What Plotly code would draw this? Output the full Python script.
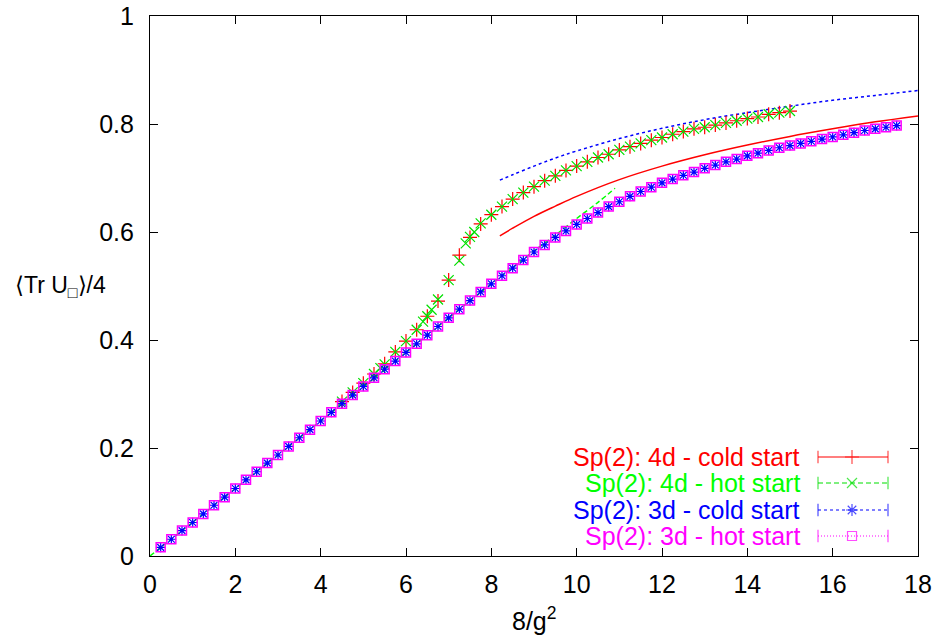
import plotly.graph_objects as go

# ---------------- data ----------------
X3 = [0.25, 0.5, 0.75, 1.0, 1.25, 1.5, 1.75, 2.0, 2.25, 2.5, 2.75, 3.0, 3.25, 3.5,
      3.75, 4.0, 4.25, 4.5, 4.75, 5.0, 5.25, 5.5, 5.75, 6.0, 6.25, 6.5, 6.75, 7.0,
      7.25, 7.5, 7.75, 8.0, 8.25, 8.5, 8.75, 9.0, 9.25, 9.5, 9.75, 10.0, 10.25, 10.5,
      10.75, 11.0, 11.25, 11.5, 11.75, 12.0, 12.25, 12.5, 12.75, 13.0, 13.25, 13.5,
      13.75, 14.0, 14.25, 14.5, 14.75, 15.0, 15.25, 15.5, 15.75, 16.0, 16.25, 16.5,
      16.75, 17.0, 17.25, 17.5]
Y3_COLD = [0.016, 0.031, 0.047, 0.062, 0.078, 0.094, 0.109, 0.125, 0.141, 0.156, 0.172,
           0.187, 0.203, 0.219, 0.234, 0.250, 0.266, 0.282, 0.298, 0.314, 0.330, 0.346,
           0.361, 0.377, 0.393, 0.409, 0.425, 0.441, 0.457, 0.473, 0.489, 0.504, 0.519,
           0.533, 0.548, 0.563, 0.576, 0.590, 0.602, 0.614, 0.625, 0.636, 0.647, 0.656,
           0.666, 0.675, 0.683, 0.691, 0.698, 0.705, 0.711, 0.718, 0.724, 0.730, 0.735,
           0.741, 0.746, 0.751, 0.756, 0.760, 0.764, 0.768, 0.772, 0.776, 0.780, 0.784,
           0.788, 0.791, 0.794, 0.797]
Y3_HOT = list(Y3_COLD)

X4_COLD = [4.5, 4.75, 5.0, 5.25, 5.5, 5.75, 6.0, 6.25, 6.5, 6.75, 7.0, 7.25, 7.5, 7.75,
           8.0, 8.25, 8.5, 8.75, 9.0, 9.25, 9.5, 9.75, 10.0, 10.25, 10.5, 10.75, 11.0,
           11.25, 11.5, 11.75, 12.0, 12.25, 12.5, 12.75, 13.0, 13.25, 13.5, 13.75, 14.0,
           14.25, 14.5, 14.75, 15.0]
Y4_COLD = [0.286, 0.303, 0.320, 0.337, 0.356, 0.378, 0.398, 0.419, 0.444, 0.472, 0.511,
           0.557, 0.590, 0.615, 0.632, 0.647, 0.661, 0.673, 0.684, 0.695, 0.704, 0.714,
           0.722, 0.730, 0.738, 0.744, 0.752, 0.758, 0.764, 0.770, 0.775, 0.781, 0.786,
           0.791, 0.794, 0.798, 0.802, 0.806, 0.810, 0.813, 0.818, 0.821, 0.824]
X4_HOT = [4.5, 4.75, 5.0, 5.25, 5.4, 5.5, 5.75, 6.0, 6.25, 6.4, 6.5, 6.6, 6.75, 7.0,
          7.25, 7.4, 7.5, 7.6, 7.75, 8.0, 8.25, 8.5, 8.75, 9.0, 9.25, 9.5, 9.75, 10.0,
          10.25, 10.5, 10.75, 11.0, 11.25, 11.5, 11.75, 12.0, 12.25, 12.5, 12.75, 13.0,
          13.25, 13.5, 13.75, 14.0, 14.25, 14.5, 14.75, 15.0]
Y4_HOT = [0.286, 0.303, 0.320, 0.337, 0.348, 0.355, 0.378, 0.398, 0.419, 0.434, 0.444,
          0.456, 0.475, 0.511, 0.547, 0.579, 0.591, 0.600, 0.616, 0.632, 0.647, 0.661,
          0.673, 0.684, 0.695, 0.704, 0.714, 0.722, 0.730, 0.738, 0.744, 0.752, 0.758,
          0.764, 0.770, 0.775, 0.781, 0.786, 0.791, 0.794, 0.798, 0.802, 0.806, 0.810,
          0.813, 0.818, 0.821, 0.824]

# expansion curves (no legend entry)
X_RED = [8.2, 8.5, 9.0, 9.5, 10.0, 11.0, 12.0, 13.0, 14.0, 15.0, 16.0, 17.0, 18.0]
Y_RED = [0.593, 0.607, 0.629, 0.648, 0.666, 0.697, 0.722, 0.743, 0.761, 0.777, 0.791,
         0.804, 0.815]
X_BLUE = [8.2, 8.5, 9.0, 9.5, 10.0, 11.0, 12.0, 13.0, 14.0, 15.0, 16.0, 17.0, 18.0]
Y_BLUE = [0.696, 0.706, 0.722, 0.737, 0.750, 0.773, 0.792, 0.808, 0.821, 0.833, 0.844,
          0.853, 0.862]
X_GREEN = [0.0, 1.0, 2.0, 3.0, 4.0, 5.0, 6.0, 7.0, 8.0, 8.5, 9.0, 9.5, 10.0, 10.5, 10.9]
Y_GREEN = [0.0, 0.0625, 0.125, 0.1875, 0.25, 0.313, 0.377, 0.441, 0.504, 0.534, 0.565,
           0.594, 0.625, 0.655, 0.681]

X_TICKS = [0, 2, 4, 6, 8, 10, 12, 14, 16, 18]
Y_TICKS = [0, 0.2, 0.4, 0.6, 0.8, 1]
Y_TICKTEXT = ["0", "0.2", "0.4", "0.6", "0.8", "1"]

SERIES_NAMES = ["Sp(2): 4d - cold start", "Sp(2): 4d - hot start",
                "Sp(2): 3d - cold start", "Sp(2): 3d - hot start"]
COLORS = ["#ff0000", "#00e000", "#0000ff", "#ff00ff"]
TEXT_COLORS = ["#ff0000", "#00ff00", "#0000ff", "#ff00ff"]
SYMBOLS = ["cross-thin", "x-thin", "asterisk-open", "square-open"]
DASHES = ["solid", "5px,3px", "3px,3px", "1px,2px"]

FONT = "Liberation Sans, Arial, Helvetica, sans-serif"
FS = 25

fig = go.Figure()

# expansion curves
fig.add_trace(go.Scatter(x=X_RED, y=Y_RED, mode="lines", line_shape="spline",
                         line=dict(color=COLORS[0], width=1.5, dash=DASHES[0]),
                         hoverinfo="skip"))
fig.add_trace(go.Scatter(x=X_GREEN, y=Y_GREEN, mode="lines", line_shape="spline",
                         line=dict(color=TEXT_COLORS[1], width=1.5, dash=DASHES[1]),
                         hoverinfo="skip"))
fig.add_trace(go.Scatter(x=X_BLUE, y=Y_BLUE, mode="lines", line_shape="spline",
                         line=dict(color=COLORS[2], width=1.5, dash=DASHES[2]),
                         hoverinfo="skip"))

# data points
data = [(X4_COLD, Y4_COLD, 10), (X4_HOT, Y4_HOT, 10), (X3, Y3_COLD, 8), (X3, Y3_HOT, 9)]
for i, (xs, ys, sz) in enumerate(data):
    fig.add_trace(go.Scatter(
        x=xs, y=ys, mode="markers", name=SERIES_NAMES[i],
        marker=dict(symbol=SYMBOLS[i], size=sz, color=COLORS[i],
                    line=dict(color=COLORS[i], width=1.5 if i == 3 else 1.2)),
    ))

# legend (gnuplot style: right-aligned coloured text, sample on the right)
L = 150
T = 16
PW = 768
PH = 540
row_px = [457, 483, 510, 536]
text_right_px = 802
samp_x_px = [818, 852, 888]
samp_x = [(p - L) / PW for p in samp_x_px]
for i, ry in enumerate(row_px):
    yv = (T + PH - ry) / PH
    fig.add_annotation(x=(text_right_px - L) / PW, y=yv, xref="paper", yref="paper",
                       text=SERIES_NAMES[i], showarrow=False, xanchor="right",
                       yanchor="middle",
                       font=dict(family=FONT, size=FS, color=TEXT_COLORS[i]))
    fig.add_trace(go.Scatter(
        x=samp_x, y=[yv, yv, yv], xaxis="x2", yaxis="y2", mode="lines+markers",
        line=dict(color=COLORS[i], width=1.2, dash=DASHES[i]),
        marker=dict(symbol=["line-ns", SYMBOLS[i], "line-ns"],
                    size=[9, 10 if i < 3 else 9, 9], color=COLORS[i],
                    line=dict(color=COLORS[i], width=1.2)),
        hoverinfo="skip"))

# axis titles
fig.add_annotation(x=0, y=0.5, xref="paper", yref="paper", xshift=-90,
                   text="⟨Tr U<sub>□</sub>⟩/4", showarrow=False,
                   xanchor="center", yanchor="middle",
                   font=dict(family=FONT, size=23, color="black"))
fig.add_annotation(x=0.5, y=0, xref="paper", yref="paper", yshift=-63,
                   text="8/g<sup>2</sup>", showarrow=False,
                   xanchor="center", yanchor="middle",
                   font=dict(family=FONT, size=FS, color="black"))

axis_common = dict(ticks="inside", ticklen=8, tickwidth=1, tickcolor="black",
                   showline=True, linecolor="black", linewidth=1.2, mirror="ticks",
                   showgrid=False, zeroline=False, automargin=False,
                   tickfont=dict(family=FONT, size=FS, color="black"))

fig.update_layout(
    width=936, height=637,
    margin=dict(l=L, r=18, t=T, b=637 - T - PH, pad=0, autoexpand=False),
    paper_bgcolor="white", plot_bgcolor="white",
    showlegend=False,
    font=dict(family=FONT, size=FS, color="black"),
    xaxis=dict(range=[0, 18], tickmode="array", tickvals=X_TICKS,
               ticktext=[str(v) for v in X_TICKS], ticklabelstandoff=6, **axis_common),
    yaxis=dict(range=[0, 1], tickmode="array", tickvals=Y_TICKS,
               ticktext=Y_TICKTEXT, ticklabelstandoff=10, **axis_common),
    xaxis2=dict(overlaying="x", anchor="y2", range=[0, 1], visible=False,
                fixedrange=True),
    yaxis2=dict(overlaying="y", anchor="x2", range=[0, 1], visible=False,
                fixedrange=True),
)

fig.write_html(
    "out.html",
    config={"displayModeBar": False},
    post_script="document.body.style.margin='0';document.body.style.overflow='hidden';",
)
